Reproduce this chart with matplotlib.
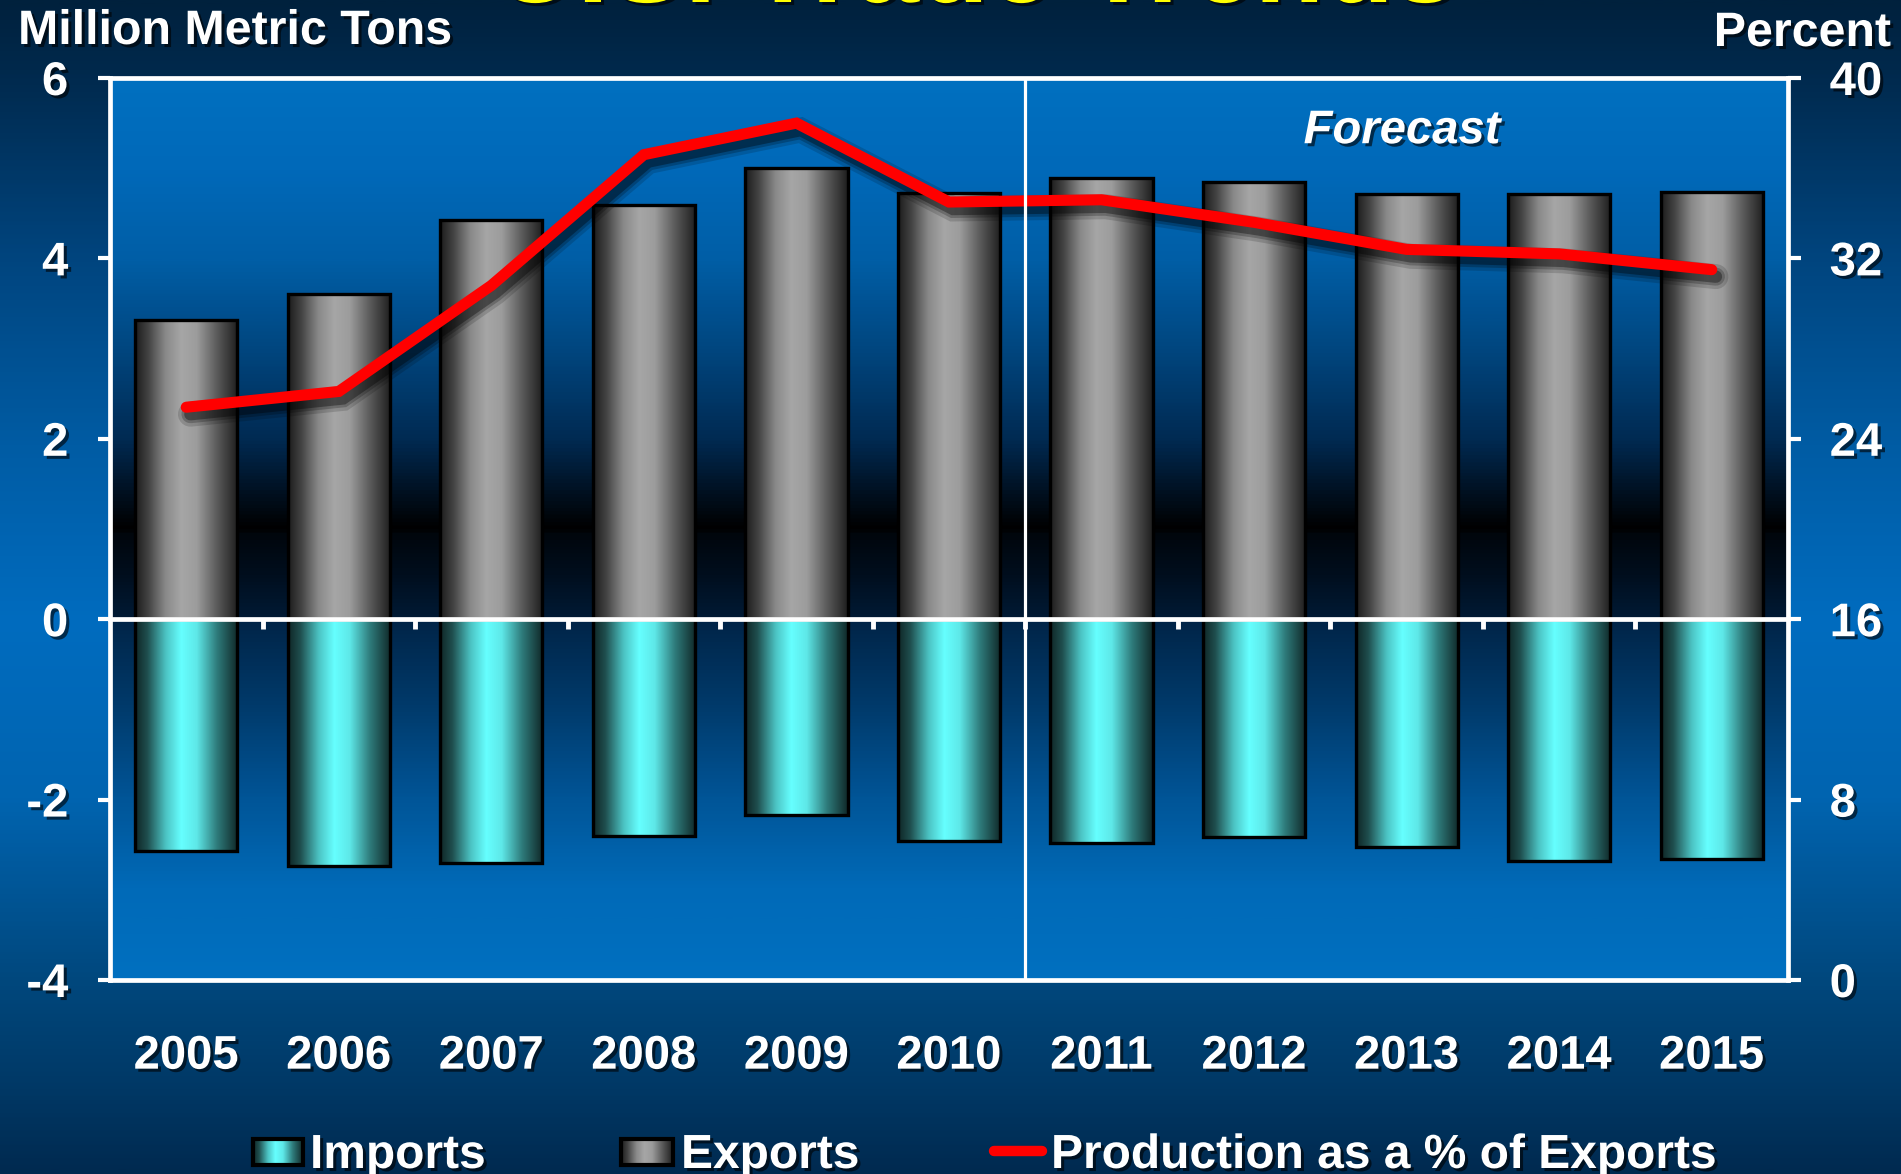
import numpy as np
import matplotlib
matplotlib.use("Agg")
import matplotlib.pyplot as plt
import matplotlib.patheffects as pe
from matplotlib.colors import LinearSegmentedColormap
from matplotlib.patches import Rectangle
from matplotlib.transforms import blended_transform_factory

# ---- data -------------------------------------------------------------
years = ["2005", "2006", "2007", "2008", "2009", "2010",
         "2011", "2012", "2013", "2014", "2015"]
exports = [3.32, 3.61, 4.43, 4.59, 5.00, 4.72, 4.89, 4.85, 4.71, 4.71, 4.74]
imports = [-2.57, -2.74, -2.70, -2.40, -2.17, -2.46, -2.48, -2.42, -2.52, -2.68, -2.66]
prod_pct = [25.4, 26.1, 30.8, 36.6, 38.0, 34.5, 34.6, 33.6, 32.4, 32.2, 31.5]
left_ticks = [-4, -2, 0, 2, 4, 6]
right_ticks = [0, 8, 16, 24, 32, 40]
forecast_start = 5.5

FONT = "Liberation Sans"
FS = 34
FS_BIG = 34.8
FS_LEG = 34.5
W, H = 1901, 1174

shadow_txt = [pe.withSimplePatchShadow(offset=(2.2, -2.2), shadow_rgbFace="black", alpha=0.6)]

fig = plt.figure(figsize=(W / 100, H / 100), dpi=100)

# ---- slide background (pixel coordinates) -----------------------------
bg = fig.add_axes([0, 0, 1, 1])
bg.set_xlim(0, W)
bg.set_ylim(H, 0)
bg.axis("off")
bg_cmap = LinearSegmentedColormap.from_list("bg", [
    (0.00, "#00213d"), (0.07, "#012b50"), (0.22, "#00457f"), (0.38, "#005ca4"),
    (0.53, "#006cbf"), (0.68, "#0064b0"), (0.84, "#00477c"), (0.92, "#003a68"),
    (1.00, "#002a50")])
bg.imshow(np.linspace(0, 1, 600)[:, None], cmap=bg_cmap, aspect="auto",
          extent=(0, W, H, 0), zorder=0)

# title (sits mostly above the top edge)
bg.text(976, 2, "U.S. Trade Trends", color="#ffff00", fontsize=82, fontweight="bold",
        family=FONT, ha="center", va="baseline", path_effects=shadow_txt, zorder=3)
bg.text(18, 44, "Million Metric Tons", color="white", fontsize=FS_BIG, fontweight="bold",
        family=FONT, ha="left", va="baseline", path_effects=shadow_txt, zorder=3)
bg.text(1891, 46, "Percent", color="white", fontsize=FS_BIG, fontweight="bold",
        family=FONT, ha="right", va="baseline", path_effects=shadow_txt, zorder=3)

exp_cmap = LinearSegmentedColormap.from_list("exp", [
    (0.00, "#1c1c1c"), (0.12, "#404040"), (0.30, "#8a8a8a"), (0.45, "#a6a6a6"),
    (0.60, "#9c9c9c"), (0.80, "#5a5a5a"), (1.00, "#1e1e1e")])
imp_cmap = LinearSegmentedColormap.from_list("imp", [
    (0.00, "#0f2626"), (0.12, "#1f4f4f"), (0.30, "#4cc4c4"), (0.45, "#66ffff"),
    (0.60, "#5ee8e8"), (0.80, "#2e7a7a"), (1.00, "#102828")])
hgrad = np.linspace(0, 1, 256)[None, :]

# legend
leg_y0, leg_y1 = 1139, 1165
for (x0, x1), cmap in [((253, 303), imp_cmap), ((621, 673), exp_cmap)]:
    bg.imshow(hgrad, cmap=cmap, aspect="auto", extent=(x0, x1, leg_y1, leg_y0), zorder=2)
    bg.add_patch(Rectangle((x0, leg_y0), x1 - x0, leg_y1 - leg_y0, fill=False,
                           edgecolor="black", lw=3, zorder=3))
bg.plot([994, 1042], [1151, 1151], color="#ff0000", lw=7.5, solid_capstyle="round", zorder=3)
for x, s in [(310, "Imports"), (681, "Exports"), (1051, "Production as a % of Exports")]:
    bg.text(x, 1168, s, color="white", fontsize=FS_LEG, fontweight="bold", family=FONT,
            ha="left", va="baseline", path_effects=shadow_txt, zorder=3)

# ---- main plot --------------------------------------------------------
ax = fig.add_axes([110 / W, 1 - 980 / H, (1788 - 110) / W, (980 - 78) / H])
ax.set_facecolor("none")
x = np.arange(len(years))

# plot-area gradient by data value
area_stops = [(-4, "#0070c0"), (-3, "#006ab8"), (-2, "#005597"), (-1, "#003b6c"),
              (0.0, "#002447"), (0.01, "#001a35"), (0.5, "#000e1d"), (0.95, "#00060c"),
              (1.0, "#000000"), (1.5, "#001428"), (2, "#002a52"), (3, "#00467f"),
              (4, "#005ea6"), (5, "#0069b9"), (6, "#0070c0")]
vals = np.array([v for v, _ in area_stops])
area_cmap = LinearSegmentedColormap.from_list(
    "area", [((v - vals.min()) / (vals.max() - vals.min()), c) for v, c in area_stops])
ax.imshow(np.linspace(1, 0, 1000)[:, None], cmap=area_cmap, aspect="auto",
          extent=(-0.5, len(years) - 0.5, -4, 6), zorder=0, vmin=0, vmax=1)

bar_w = 0.67
for values, cmap in [(exports, exp_cmap), (imports, imp_cmap)]:
    bars = ax.bar(x, values, width=bar_w, facecolor="none", edgecolor="black",
                  linewidth=2.4, zorder=2)
    for b in bars:
        bx, by, bw, bh = b.get_x(), b.get_y(), b.get_width(), b.get_height()
        im = ax.imshow(hgrad, cmap=cmap, aspect="auto",
                       extent=(bx, bx + bw, by, by + bh), zorder=1.5)
        im.set_clip_path(b)

ax.set_xlim(-0.5, len(years) - 0.5)
ax.set_ylim(-4, 6)
ax.set_yticks(left_ticks)
ax.set_yticklabels([str(t) for t in left_ticks])
ax.set_xticks(x[:-1] + 0.5)
ax.set_xticklabels([])
ax.spines["bottom"].set_position(("data", 0))
for s in ["bottom", "left"]:
    ax.spines[s].set_color("white")
    ax.spines[s].set_linewidth(3.4)
    ax.spines[s].set_zorder(3)
ax.spines["top"].set_visible(False)
ax.spines["right"].set_visible(False)
ax.tick_params(axis="y", direction="out", length=9, width=3, color="white",
               labelcolor="white", labelsize=FS, pad=21)
ax.tick_params(axis="x", direction="out", length=7, width=3.5, color="white")
for lab in ax.get_yticklabels():
    lab.set_fontfamily(FONT)
    lab.set_fontweight("bold")
    lab.set_path_effects(shadow_txt)

lab_tr = blended_transform_factory(ax.transData, ax.transAxes)
for xi, yr in zip(x, years):
    ax.text(xi, -0.085, yr, transform=lab_tr, color="white", fontsize=FS,
            fontweight="bold", family=FONT, ha="center", va="center",
            path_effects=shadow_txt)

ax.text(0.770, 0.941, "Forecast", transform=ax.transAxes, color="white", fontsize=FS,
        fontweight="bold", fontstyle="italic", family=FONT, ha="center", va="center",
        path_effects=shadow_txt, zorder=6)

# ---- secondary axis: production share ---------------------------------
ax2 = ax.twinx()
ax2.set_ylim(0, 40)
ax2.set_yticks(right_ticks)
ax2.set_yticklabels([str(t) for t in right_ticks])
line_fx = [
    pe.SimpleLineShadow(offset=(3, -5), shadow_color="black", alpha=0.15, linewidth=18),
    pe.SimpleLineShadow(offset=(3, -5), shadow_color="black", alpha=0.22, linewidth=13),
    pe.SimpleLineShadow(offset=(3, -5), shadow_color="black", alpha=0.35, linewidth=9),
    pe.Normal(),
]
ax2.plot(x, prod_pct, color="#ff0000", lw=8, solid_capstyle="round",
         solid_joinstyle="miter", path_effects=line_fx, zorder=3)
ax2.axvline(forecast_start, color="white", lw=2.3, zorder=5)
ax2.spines["left"].set_visible(False)
for s in ["top", "right", "bottom"]:
    ax2.spines[s].set_color("white")
    ax2.spines[s].set_linewidth(3.4)
ax2.tick_params(axis="y", direction="out", length=9, width=3, color="white",
                labelcolor="white", labelsize=FS, pad=21)
for lab in ax2.get_yticklabels():
    lab.set_fontfamily(FONT)
    lab.set_fontweight("bold")
    lab.set_path_effects(shadow_txt)

fig.savefig("out.png", dpi=100)
